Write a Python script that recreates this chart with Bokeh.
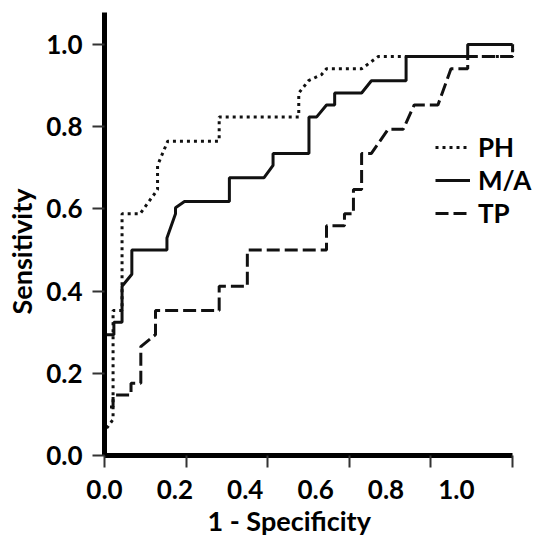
from bokeh.plotting import figure
from bokeh.models import (Range1d, LinearAxis, FixedTicker, PrintfTickFormatter,
                          CustomJSTickFormatter, Legend, LegendItem, Title)
from bokeh.embed import file_html
from bokeh.resources import INLINE

# ---------------- data ----------------
series_names = ["PH", "M/A", "TP"]

ph_x = [0.0, 0.0, 0.021, 0.021, 0.043, 0.043, 0.087, 0.130, 0.130, 0.155, 0.281,
        0.281, 0.476, 0.476, 0.500, 0.532, 0.544, 0.630, 0.671, 1.0, 1.0]
ph_y = [0.0, 0.059, 0.088, 0.353, 0.353, 0.588, 0.588, 0.647, 0.706, 0.765, 0.765,
        0.824, 0.824, 0.882, 0.912, 0.927, 0.941, 0.941, 0.971, 0.971, 1.0]

ma_x = [0.0, 0.0, 0.023, 0.023, 0.043, 0.043, 0.067, 0.067, 0.153, 0.153, 0.174,
        0.174, 0.196, 0.306, 0.306, 0.391, 0.413, 0.413, 0.501, 0.501, 0.520,
        0.544, 0.564, 0.564, 0.630, 0.654, 0.739, 0.739, 0.890, 0.890, 1.0]
ma_y = [0.0, 0.294, 0.294, 0.324, 0.324, 0.412, 0.441, 0.500, 0.500, 0.529, 0.588,
        0.603, 0.618, 0.618, 0.676, 0.676, 0.706, 0.735, 0.735, 0.824, 0.824,
        0.853, 0.853, 0.882, 0.882, 0.912, 0.912, 0.971, 0.971, 1.0, 1.0]

tp_x = [0.0, 0.0, 0.021, 0.021, 0.065, 0.065, 0.089, 0.089, 0.125, 0.125, 0.281,
        0.281, 0.350, 0.350, 0.544, 0.544, 0.588, 0.588, 0.610, 0.610, 0.630,
        0.630, 0.654, 0.695, 0.732, 0.759, 0.817, 0.849, 0.890, 0.890, 1.0, 1.0]
tp_y = [0.0, 0.118, 0.118, 0.147, 0.147, 0.176, 0.176, 0.265, 0.294, 0.353, 0.353,
        0.412, 0.412, 0.500, 0.500, 0.559, 0.559, 0.588, 0.588, 0.647, 0.647,
        0.735, 0.735, 0.794, 0.794, 0.853, 0.853, 0.941, 0.941, 0.971, 0.971, 1.0]

tick_values = [0.0, 0.2, 0.4, 0.6, 0.8, 1.0]
x_title = "1 - Specificity"
y_title = "Sensitivity"

# ---------------- figure ----------------
FONT = "Lato"
INK = "#111111"

p = figure(width=533, height=536, output_backend="svg", toolbar_location=None,
           x_range=Range1d(0, 1.0512), y_range=Range1d(0, 1.078),
           min_border_left=102, min_border_right=0, min_border_top=12,
           min_border_bottom=81)
p.title.visible = False
p.grid.visible = False
p.outline_line_color = None
p.background_fill_color = "white"
p.border_fill_color = "white"

# y axis
ya = p.yaxis[0]
ya.ticker = FixedTicker(ticks=tick_values)
ya.formatter = PrintfTickFormatter(format="%.1f")
ya.axis_line_width = 5
ya.axis_line_color = "black"
ya.major_tick_out = 12
ya.major_tick_in = 0
ya.major_tick_line_width = 2
ya.major_tick_line_color = "#333333"
ya.minor_tick_line_color = None
ya.major_label_text_font = FONT
ya.major_label_text_font_style = "bold"
ya.major_label_text_font_size = "26px"
ya.major_label_text_color = "black"
ya.major_label_standoff = 10

# x axis: line and ticks only (line stops at 1.0)
xa = p.xaxis[0]
xa.ticker = FixedTicker(ticks=tick_values)
xa.formatter = CustomJSTickFormatter(code="return ''")
xa.bounds = (0, 1.0)
xa.axis_line_width = 5
xa.axis_line_color = "black"
xa.major_tick_out = 12
xa.major_tick_in = 0
xa.major_tick_line_width = 2
xa.major_tick_line_color = "#333333"
xa.minor_tick_line_color = None
xa.major_label_text_font_size = "0px"
xa.major_label_standoff = 0

# x tick labels on their own (compressed) scale, as in the reference
p.extra_x_ranges = {"lab": Range1d(0, 1.2192)}
la = LinearAxis(x_range_name="lab", ticker=FixedTicker(ticks=tick_values),
                formatter=PrintfTickFormatter(format="%.1f"),
                axis_line_color=None, major_tick_line_color=None,
                minor_tick_line_color=None, major_tick_in=0, major_tick_out=0,
                major_label_standoff=12,
                major_label_text_font=FONT, major_label_text_font_style="bold",
                major_label_text_font_size="26px", major_label_text_color="black")
p.add_layout(la, "below")

# axis titles
p.add_layout(Title(text=x_title, align="left", offset=103, vertical_align="bottom",
                   standoff=0, text_font=FONT, text_font_style="bold",
                   text_font_size="27px", text_color="black"), "below")
p.add_layout(Title(text=y_title, align="left", offset=141, vertical_align="top",
                   standoff=8, text_font=FONT, text_font_style="bold",
                   text_font_size="27px", text_color="black"), "left")

# curves
r_ph = p.line(ph_x, ph_y, line_width=3, line_color=INK, line_dash="3 4")
r_ma = p.line(ma_x, ma_y, line_width=3, line_color=INK)
r_tp = p.line(tp_x, tp_y, line_width=3, line_color=INK, line_dash="13 5")

legend = Legend(items=[LegendItem(label=series_names[0], renderers=[r_ph]),
                       LegendItem(label=series_names[1], renderers=[r_ma]),
                       LegendItem(label=series_names[2], renderers=[r_tp])],
                location=(331, 226), label_text_font=FONT,
                label_text_font_style="bold", label_text_font_size="26px",
                label_text_color="black", glyph_width=35, glyph_height=32,
                label_height=32, label_standoff=8, spacing=1, padding=0,
                margin=0, border_line_color=None, background_fill_alpha=0)
p.add_layout(legend)

open("out.html", "w").write(file_html(p, INLINE))
